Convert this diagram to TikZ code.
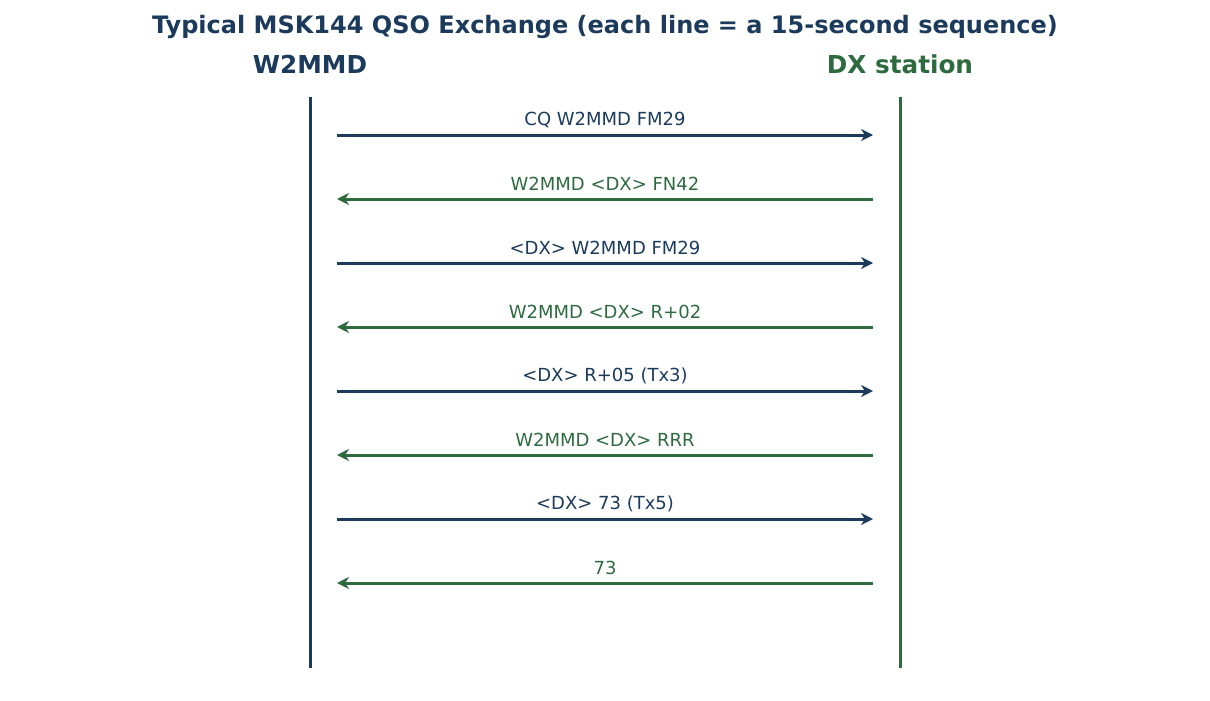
\documentclass[tikz,border=0pt]{standalone}
\usepackage{fontspec}
\setmainfont{DejaVu Sans}
\usetikzlibrary{arrows.meta}
\definecolor{wblue}{HTML}{1B3A5C}
\definecolor{dxgreen}{HTML}{2D6B3F}

\begin{document}
\begin{tikzpicture}[x=1pt,y=-1pt,
    msg/.style={line width=3pt,-{Stealth[length=12pt,width=12pt]}},
    lbl/.style={font=\fontsize{18}{21}\selectfont},
    head/.style={font=\fontsize{24.7}{29}\selectfont\bfseries}]
        \useasboundingbox (0,0) rectangle (1210,701);
        \node at (605,27) [font=\fontsize{24}{28}\selectfont\bfseries,text=wblue] (title) {Typical MSK144 QSO Exchange (each line = a 15-second sequence)};
        \node at (310,64) [head,text=wblue] (hw) {W2MMD};
        \node at (900,64) [head,text=dxgreen] (hdx) {DX station};
        \coordinate (wtop) at (310,97);
        \coordinate (wbot) at (310,668);
        \coordinate (dtop) at (900,97);
        \coordinate (dbot) at (900,668);
        \draw[wblue,line width=3pt] (wtop) -- (wbot);
        \draw[dxgreen,line width=3pt] (dtop) -- (dbot);
        % messages, alternating direction
        \foreach \i/\txt/\col/\dir in {0/CQ W2MMD FM29/wblue/1,
                1/W2MMD <DX> FN42/dxgreen/0,
                2/<DX> W2MMD FM29/wblue/1,
                3/W2MMD <DX> R+02/dxgreen/0,
                4/<DX> R+05 (Tx3)/wblue/1,
                5/W2MMD <DX> RRR/dxgreen/0,
                6/<DX> 73 (Tx5)/wblue/1,
                7/73/dxgreen/0} {
            \coordinate (l\i) at (337,135+64*\i);
            \coordinate (r\i) at (873,135+64*\i);
            \node at (605,120+64*\i) [lbl,text=\col] (m\i) {\txt};
            \ifnum\dir=1
                \draw[msg,\col] (l\i) -- (r\i);
            \else
                \draw[msg,\col] (r\i) -- (l\i);
            \fi
        }
\end{tikzpicture}
\end{document}
